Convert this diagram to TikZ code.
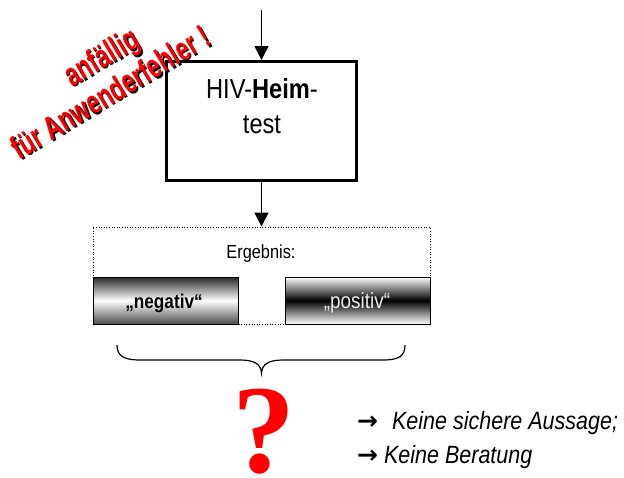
\documentclass[tikz,border=0pt]{standalone}
\usepackage{fontspec}
\setmainfont{Liberation Sans}[FakeStretch=0.86]
\newfontfamily\qfont{Liberation Serif}
\newfontfamily\warnfont{Liberation Sans}[FakeStretch=0.7]
\newfontfamily\arrfont{DejaVu Sans}
\usetikzlibrary{arrows.meta}
\newcommand{\redtxt}{\warnfont\bfseries\fontsize{33}{33}\selectfont}
\begin{document}
\begin{tikzpicture}[x=1pt,y=-1pt,
  arr/.style={line width=1.5pt,-{Triangle[length=14pt,width=14pt]}},
  mainbox/.style={draw,line width=3pt,inner sep=0pt,minimum width=190pt,minimum height=119pt},
  dotbox/.style={draw,line width=1pt,dash pattern=on 1pt off 1.6pt,inner sep=0pt,minimum width=337pt,minimum height=97pt},
  resbox/.style={draw,line width=0.8pt,inner sep=0pt,minimum width=145pt,minimum height=47pt},
  txt/.style={inner sep=0pt,anchor=base},
  warn/.style={inner sep=0pt,anchor=base,rotate=31}]
\useasboundingbox (0,0) rectangle (624,477);

% arrows and main box
\coordinate (start) at (261.5,10);
\node[mainbox] (hiv) at (261.5,121) {};
\node[txt] (hivt1) at (262,98) {\fontsize{27.5}{27.5}\selectfont HIV-\textbf{Heim}-};
\node[txt] (hivt2) at (262,133) {\fontsize{27.5}{27.5}\selectfont test};
\draw[arr] (start) -- (hiv.north);

% result box
\node[dotbox] (res) at (261.5,275.5) {};
\draw[arr] (hiv.south) -- (res.north);
\node[txt] (erg) at (261,258) {\fontsize{19}{19}\selectfont Ergebnis:};
\node[resbox,top color=black!85,bottom color=black!70,middle color=white] (neg) at (165.5,300.5) {};
\node[txt] (negt) at (164,308) {\fontsize{20}{20}\selectfont\bfseries „negativ“};
\node[resbox,top color=white,bottom color=white,middle color=black] (pos) at (357.5,300.5) {};
\node[txt,text=black!8] (post) at (357,308) {\fontsize{22}{22}\selectfont „positiv“};

% brace
\draw[line width=1.2pt] (117,345) .. controls (117,356) and (124,360) .. (140,360)
  -- (240,360) .. controls (254,360) and (261,364) .. (261.5,373)
  .. controls (262,364) and (269,360) .. (283,360)
  -- (383,360) .. controls (399,360) and (405,356) .. (405,345);

% question mark
\node[txt,text=red] (q) at (264,472) {\qfont\bfseries\fontsize{126}{126}\selectfont ?};

% conclusions
\node[inner sep=0pt,anchor=base west] (c1) at (357,429) {\fontsize{25}{25}\selectfont {\arrfont\bfseries →}\hspace{14pt}\textit{Keine sichere Aussage;}};
\node[inner sep=0pt,anchor=base west] (c2) at (357,463) {\fontsize{25}{25}\selectfont {\arrfont\bfseries →}\hspace{6pt}\textit{Keine Beratung}};

% warning text
\node[warn,text=black] (w1s) at (108.5,68) {\redtxt anfällig};
\node[warn,text=red] (w1) at (107,66.5) {\redtxt anfällig};
\node[warn,text=black] (w2s) at (118,103.5) {\redtxt für Anwenderfehler !};
\node[warn,text=red] (w2) at (116.5,102) {\redtxt für Anwenderfehler !};
\end{tikzpicture}
\end{document}
